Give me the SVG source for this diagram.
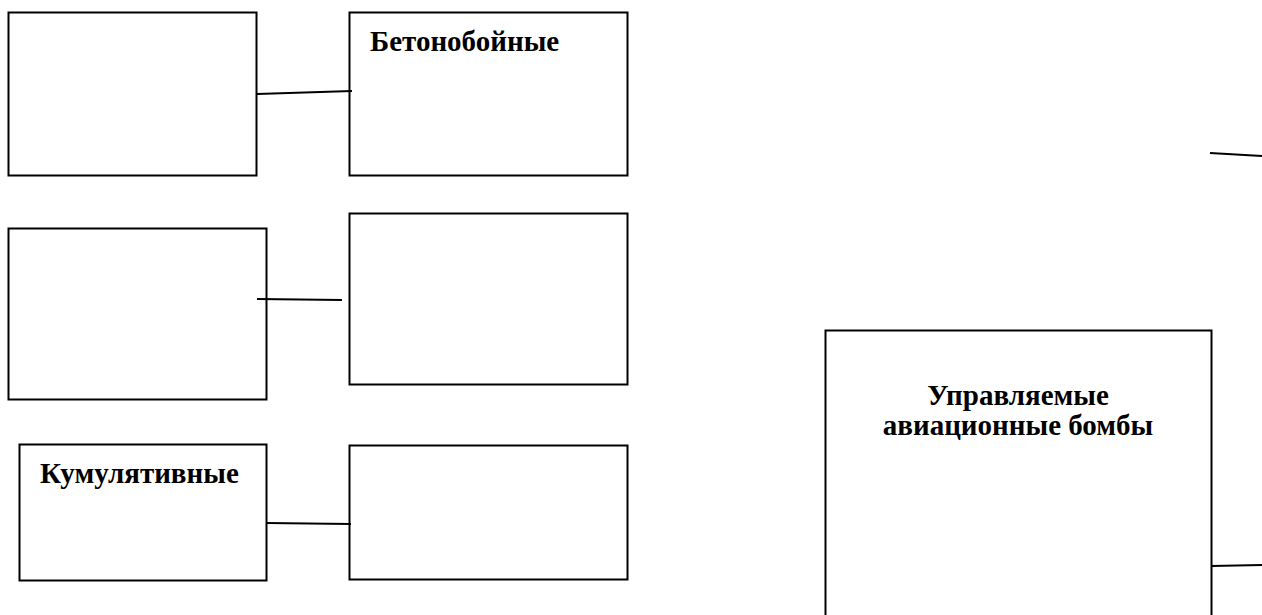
<svg xmlns="http://www.w3.org/2000/svg" width="1262" height="615" viewBox="0 0 1262 615">
<style>
.box{fill:#fff;stroke:#000;stroke-width:2}
.lbl{font-family:"Liberation Serif","Times New Roman",serif;font-weight:bold;font-size:29px;fill:#000}
.conn{stroke:#000;stroke-width:2;fill:none}
</style>
<rect width="1262" height="615" fill="#fff"/>
<g id="n1"><rect class="box" x="8.5" y="12.5" width="248" height="163"/></g>
<g id="n2"><rect class="box" x="349.5" y="12.5" width="278" height="163"/><text class="lbl" x="370" y="51">Бетонобойные</text></g>
<g id="n3"><rect class="box" x="8.5" y="228.5" width="258" height="171"/></g>
<g id="n4"><rect class="box" x="349.5" y="213.5" width="278" height="171"/></g>
<g id="n5"><rect class="box" x="19.5" y="444.5" width="247" height="136"/><text class="lbl" x="40" y="483">Кумулятивные</text></g>
<g id="n6"><rect class="box" x="349.5" y="445.5" width="278" height="134"/></g>
<g id="n7"><rect class="box" x="825.5" y="330.5" width="386" height="320"/><text class="lbl" x="1018" y="405" text-anchor="middle">Управляемые</text><text class="lbl" x="1018" y="435" text-anchor="middle">авиационные бомбы</text></g>
<g id="connectors">
<line class="conn" x1="257" y1="94" x2="352" y2="91"/>
<line class="conn" x1="257" y1="299" x2="342" y2="300"/>
<line class="conn" x1="266" y1="523" x2="351" y2="524"/>
<line class="conn" x1="1210" y1="153" x2="1262" y2="156"/>
<line class="conn" x1="1211" y1="566" x2="1262" y2="565"/>
</g>
</svg>
